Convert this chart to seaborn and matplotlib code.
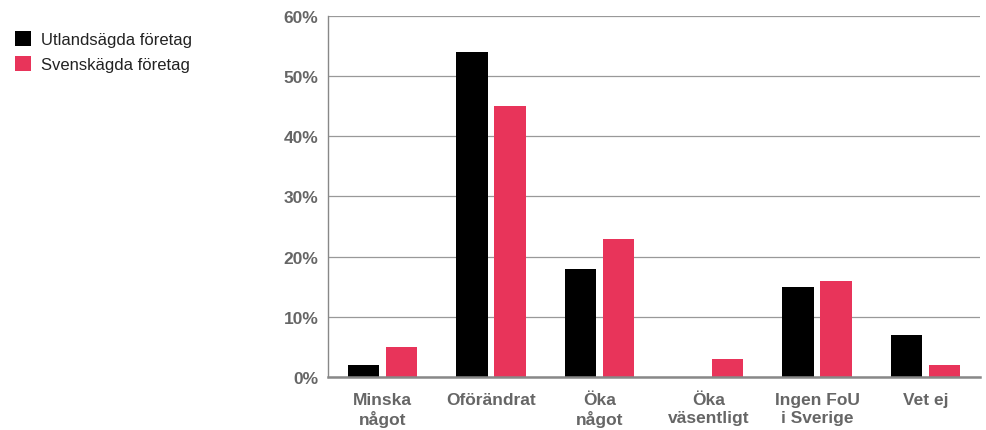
import pandas as pd
import matplotlib.pyplot as plt
import seaborn as sns
from matplotlib.patches import Patch
from matplotlib.ticker import PercentFormatter

# data
categories = ["Minska\nnågot", "Oförändrat", "Öka\nnågot", "Öka\nväsentligt",
              "Ingen FoU\ni Sverige", "Vet ej"]
utlandsagda = [2, 54, 18, 0, 15, 7]
svenskagda = [5, 45, 23, 3, 16, 2]
series_names = ["Utlandsägda företag", "Svenskägda företag"]
colors = ["#000000", "#E8345A"]

df = pd.DataFrame({
    "Kategori": categories * 2,
    "Andel": utlandsagda + svenskagda,
    "Grupp": [series_names[0]] * len(categories) + [series_names[1]] * len(categories),
})

sns.set_style("white")
plt.rcParams["font.family"] = ["Liberation Sans", "DejaVu Sans"]

fig = plt.figure(figsize=(9.86, 4.31), dpi=100)
ax = fig.add_axes([0.3327, 0.123, 0.6613, 0.8376])

sns.barplot(data=df, x="Kategori", y="Andel", hue="Grupp", palette=colors,
            width=0.7, gap=0.18, ax=ax, legend=False, saturation=1,
            linewidth=0)

ax.set_ylim(0, 60)
ax.set_yticks(range(0, 61, 10))
ax.yaxis.set_major_formatter(PercentFormatter(decimals=0))
ax.yaxis.grid(True, color="#999999", linewidth=0.9)
ax.set_axisbelow(True)
ax.set_xlabel("")
ax.set_ylabel("")

for s in ["top", "right"]:
    ax.spines[s].set_visible(False)
ax.spines["left"].set_color("#888888")
ax.spines["left"].set_linewidth(1.0)
ax.spines["bottom"].set_color("#888888")
ax.spines["bottom"].set_linewidth(1.8)

ax.tick_params(axis="both", length=0, labelsize=12.5, labelcolor="#666666")
ax.tick_params(axis="y", pad=7)
ax.tick_params(axis="x", pad=11)
for lbl in ax.get_xticklabels() + ax.get_yticklabels():
    lbl.set_fontweight("bold")
for lbl in ax.get_xticklabels():
    lbl.set_linespacing(1.2)

handles = [Patch(facecolor=c, edgecolor="none") for c in colors]
fig.legend(handles, series_names, loc="upper left", bbox_to_anchor=(0.0, 0.96),
           frameon=False, fontsize=12, handlelength=0.95, handleheight=0.95,
           handletextpad=0.6, labelspacing=0.55, labelcolor="#222222")

fig.savefig("out.png", dpi=100)
